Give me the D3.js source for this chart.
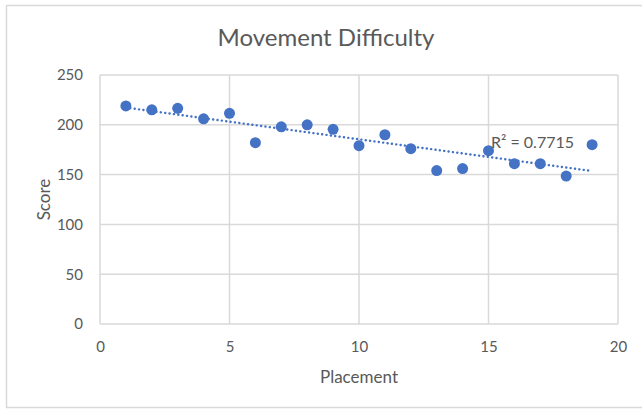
<!DOCTYPE html>
<html>
<head>
<meta charset="utf-8">
<script src="https://cdn.jsdelivr.net/npm/d3@7"></script>
<style>
  body { margin: 0; background: #fff; }
  svg text { font-family: Lato, "Open Sans", sans-serif; fill: #595959; }
</style>
</head>
<body>
<div id="chart"></div>
<script>
// data
const placement = [1, 2, 3, 4, 5, 6, 7, 8, 9, 10, 11, 12, 13, 14, 15, 16, 17, 18, 19];
const score = [219, 215, 216.5, 206, 211.5, 182, 198, 200, 195.5, 179, 190, 176, 154, 156, 174, 161, 161, 148.5, 180];
const xTicks = [0, 5, 10, 15, 20];
const yTicks = [0, 50, 100, 150, 200, 250];
const rSquaredLabel = "R² = 0.7715";

const width = 642;
const height = 409;
const margin = { top: 75, right: 24, bottom: 85, left: 100 };

const svg = d3.select("#chart")
    .append("svg")
    .attr("width", width)
    .attr("height", height);

// outer chart border
svg.append("rect")
    .attr("x", 6.5).attr("y", 5.5)
    .attr("width", width).attr("height", 402)
    .attr("fill", "#fff")
    .attr("stroke", "#d9d9d9")
    .attr("stroke-width", 1.5);

const x = d3.scaleLinear().domain([0, 20]).range([margin.left, width - margin.right]);
const y = d3.scaleLinear().domain([0, 250]).range([height - margin.bottom, margin.top]);

// gridlines
svg.append("g")
    .selectAll("line.h")
    .data(yTicks)
    .enter()
    .append("line")
    .attr("x1", x(0)).attr("x2", x(20))
    .attr("y1", d => y(d)).attr("y2", d => y(d))
    .attr("stroke", "#d9d9d9")
    .attr("stroke-width", 1.5);

svg.append("g")
    .selectAll("line.v")
    .data(xTicks)
    .enter()
    .append("line")
    .attr("x1", d => x(d)).attr("x2", d => x(d))
    .attr("y1", y(0)).attr("y2", y(250))
    .attr("stroke", "#d9d9d9")
    .attr("stroke-width", 1.5);

// axes (labels only)
const xAxis = svg.append("g")
    .attr("transform", `translate(0,${y(0)})`)
    .call(d3.axisBottom(x).tickValues(xTicks).tickSize(0).tickPadding(17));
const yAxis = svg.append("g")
    .attr("transform", `translate(${x(0)},0)`)
    .call(d3.axisLeft(y).tickValues(yTicks).tickSize(0).tickPadding(17));
[xAxis, yAxis].forEach(a => {
    a.select(".domain").remove();
    a.selectAll("text").style("font-size", "15px").attr("fill", "#595959")
        .style("font-family", "Lato, sans-serif");
});

// linear trendline
const mx = d3.mean(placement);
const my = d3.mean(score);
const slope = d3.sum(placement, (d, i) => (d - mx) * (score[i] - my)) / d3.sum(placement, d => (d - mx) ** 2);
const intercept = my - slope * mx;
const x0 = d3.min(placement), x1 = d3.max(placement);

svg.append("line")
    .attr("x1", x(x0)).attr("y1", y(intercept + slope * x0))
    .attr("x2", x(x1)).attr("y2", y(intercept + slope * x1))
    .attr("stroke", "#4472c4")
    .attr("stroke-width", 2.4)
    .attr("stroke-linecap", "round")
    .attr("stroke-dasharray", "0.1 4.3");

// points
svg.append("g")
    .selectAll("circle")
    .data(placement)
    .enter()
    .append("circle")
    .attr("cx", d => x(d))
    .attr("cy", (d, i) => y(score[i]))
    .attr("r", 5.5)
    .attr("fill", "#4472c4");

svg.append("text")
    .attr("x", 491).attr("y", 148)
    .style("font-size", "16px")
    .text(rSquaredLabel);

// titles
svg.append("text")
    .attr("x", 326).attr("y", 46)
    .attr("text-anchor", "middle")
    .style("font-size", "24px")
    .text("Movement Difficulty");

svg.append("text")
    .attr("x", x(10)).attr("y", 383)
    .attr("text-anchor", "middle")
    .style("font-size", "17px")
    .text("Placement");

svg.append("text")
    .attr("transform", `translate(50,${y(125)}) rotate(-90)`)
    .attr("text-anchor", "middle")
    .style("font-size", "17px")
    .text("Score");
</script>
</body>
</html>
